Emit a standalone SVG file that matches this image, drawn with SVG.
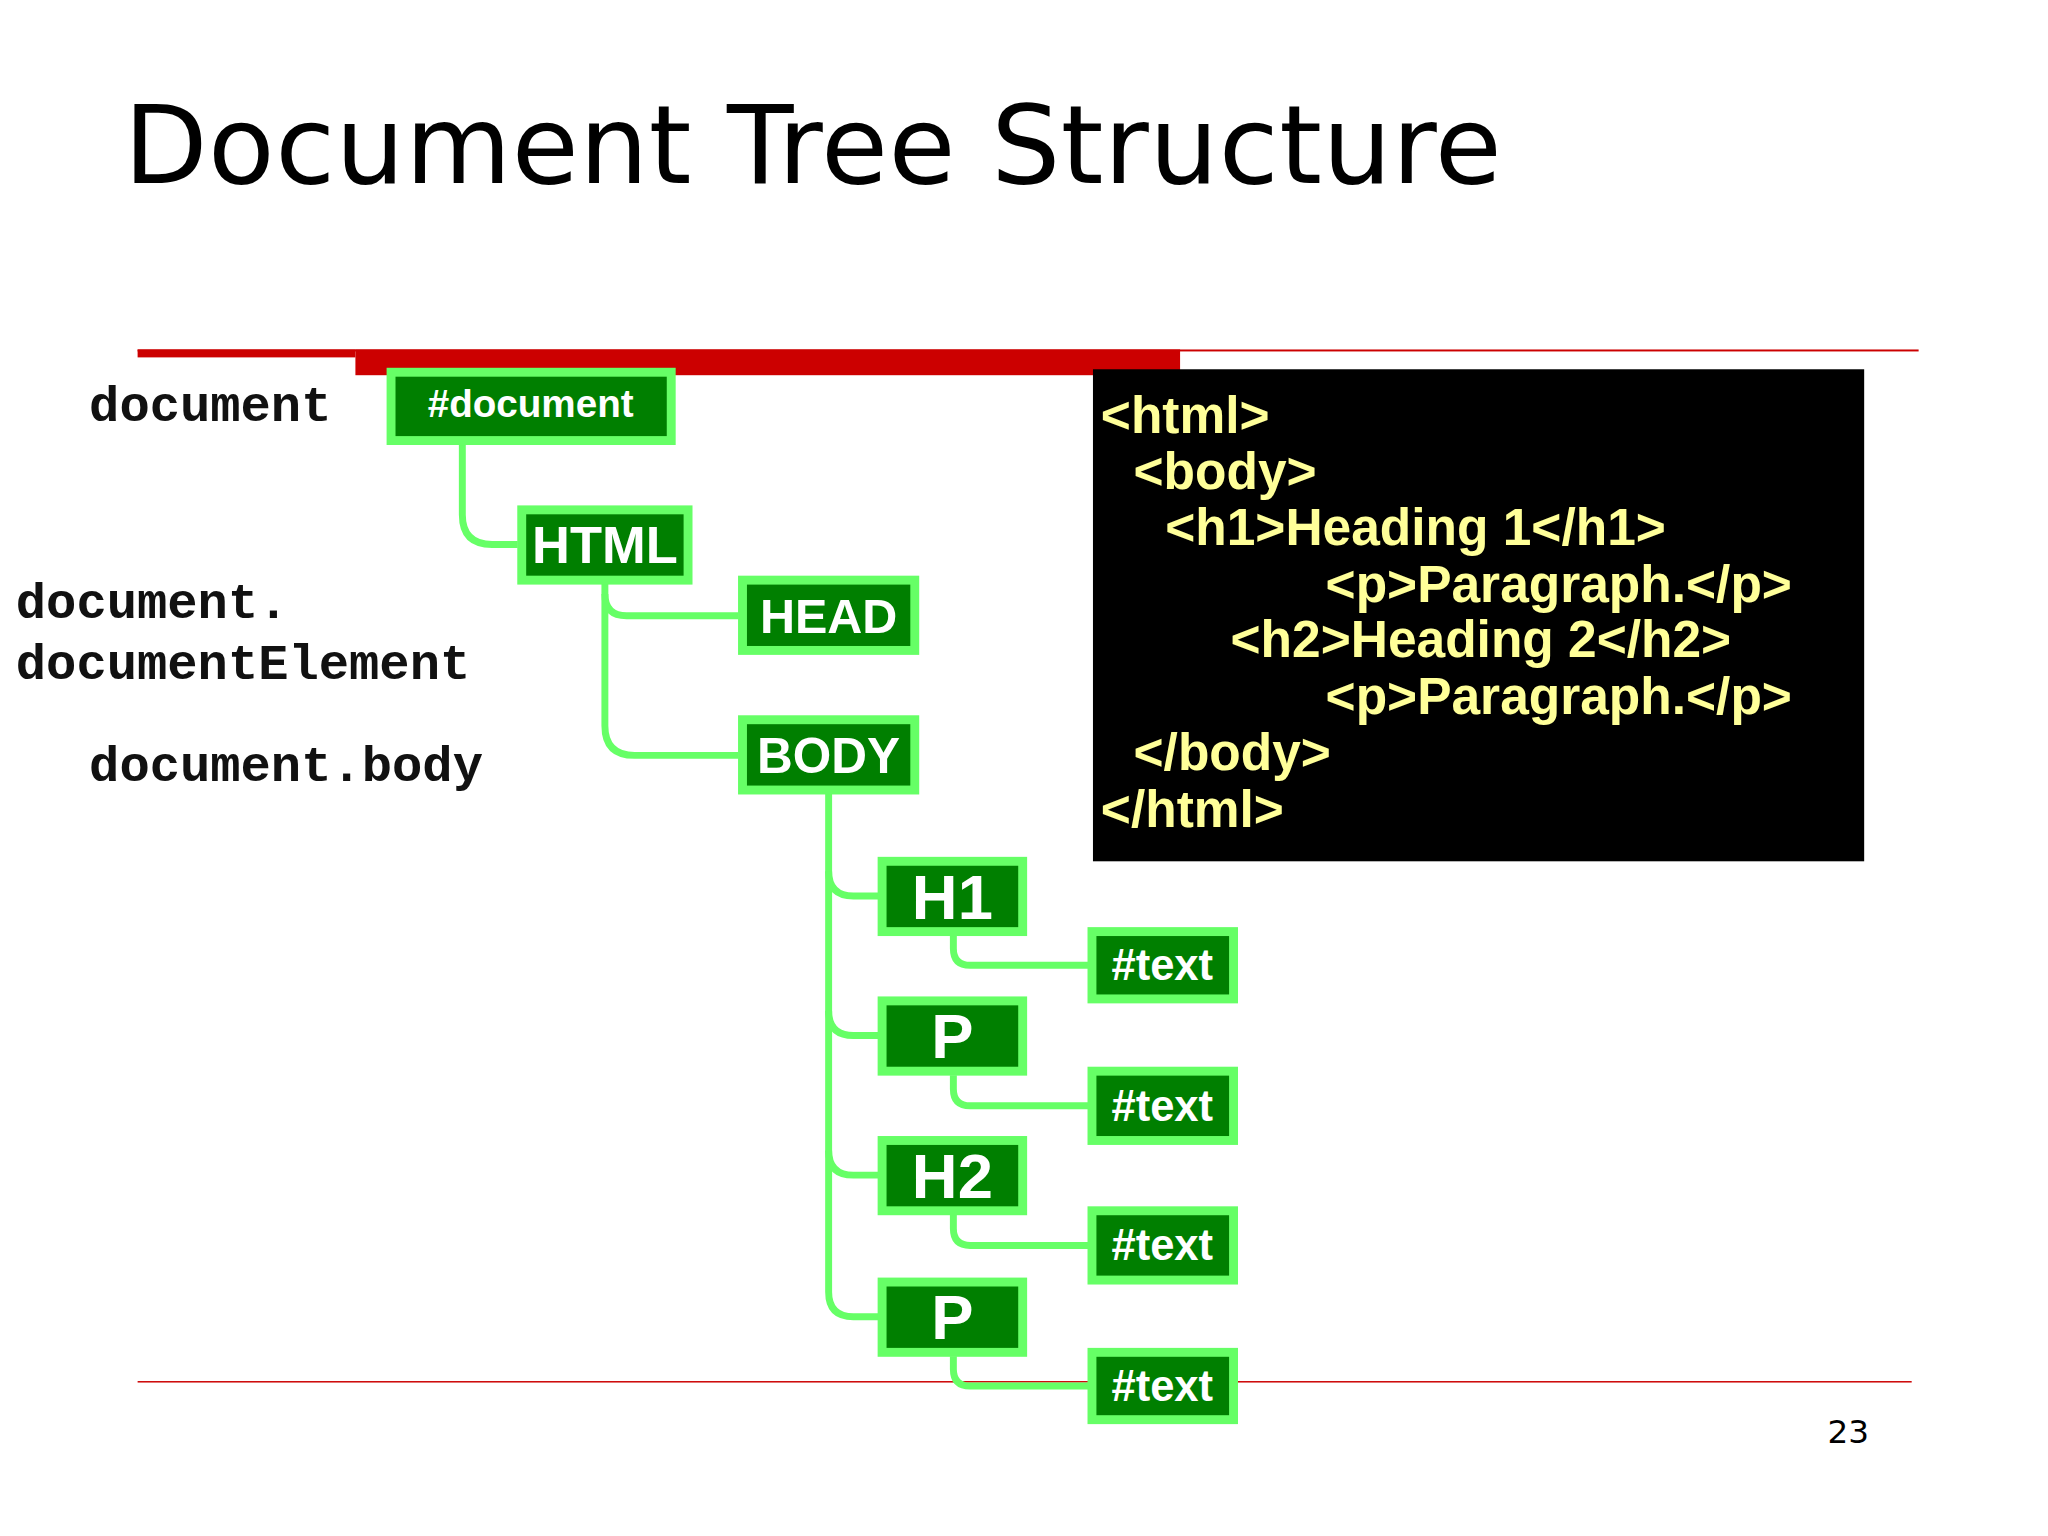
<svg xmlns="http://www.w3.org/2000/svg" width="2048" height="1536" viewBox="0 0 2048 1536">
<style>
.n rect{fill:#007f00;stroke:#66ff66;stroke-width:9}
.n text{fill:#fff;font-family:"Liberation Sans",Arial,sans-serif;font-weight:bold;text-anchor:middle}
.c path{fill:none;stroke:#66ff66;stroke-width:7;stroke-linejoin:round}
.code{fill:#ffff99;font-family:"Liberation Sans",Arial,sans-serif;font-weight:bold;font-size:52px}
.lab{fill:#111;font-family:"Liberation Mono","Courier New",monospace;font-weight:bold;font-size:51px}
</style>
<rect width="2048" height="1536" fill="#fff"/>
<g transform="scale(0.99)">
<text x="125" y="185" font-family="'DejaVu Sans',Verdana,sans-serif" font-size="110" textLength="1392" fill="#000">Document Tree Structure</text>
<rect x="139" y="353" width="1799" height="2" fill="#cc0000"/>
<rect x="139" y="353" width="220" height="8" fill="#cc0000"/>
<rect x="359" y="353" width="833" height="26" fill="#cc0000"/>
<rect x="139" y="1395" width="1792" height="1.5" fill="#cc0000"/>
<text x="1888" y="1458" font-family="'DejaVu Sans',Verdana,sans-serif" font-size="33" text-anchor="end">23</text>
<g id="labels">
<text class="lab" x="90" y="425">document</text>
<text class="lab" x="16" y="624">document.</text>
<text class="lab" x="16" y="686">documentElement</text>
<text class="lab" x="90" y="789">document.body</text>
</g>
<g id="code">
<rect x="1104" y="373" width="779" height="497" fill="#000"/>
<text class="code" x="1112" y="437">&lt;html&gt;</text>
<text class="code" x="1145" y="494">&lt;body&gt;</text>
<text class="code" x="1177" y="551">&lt;h1&gt;Heading 1&lt;/h1&gt;</text>
<text class="code" x="1339" y="608">&lt;p&gt;Paragraph.&lt;/p&gt;</text>
<text class="code" x="1243" y="664">&lt;h2&gt;Heading 2&lt;/h2&gt;</text>
<text class="code" x="1339" y="721">&lt;p&gt;Paragraph.&lt;/p&gt;</text>
<text class="code" x="1145" y="778">&lt;/body&gt;</text>
<text class="code" x="1112" y="835">&lt;/html&gt;</text>
</g>
<g class="c" id="connectors">
<path d="M467 449 V520 Q467 550 497 550 H523"/>
<path d="M611 590 V600 Q611 622 633 622 H746"/>
<path d="M611 600 V733 Q611 763 641 763 H746"/>
<path d="M837 802 V880 Q837 905 862 905 H887"/>
<path d="M837 880 V1021 Q837 1046 862 1046 H887"/>
<path d="M837 1021 V1162 Q837 1187 862 1187 H887"/>
<path d="M837 1162 V1305 Q837 1330 862 1330 H887"/>
<path d="M963 945 V958 Q963 975 980 975 H1099"/>
<path d="M963 1086 V1100 Q963 1117 980 1117 H1099"/>
<path d="M963 1227 V1241 Q963 1258 980 1258 H1099"/>
<path d="M963 1370 V1383 Q963 1400 980 1400 H1099"/>
</g>
<g class="n" id="n-document"><rect x="395" y="376" width="283" height="69"/><text x="536" y="421" font-size="39">#document</text></g>
<g class="n" id="n-html"><rect x="527" y="515" width="168" height="71"/><text x="611" y="569" font-size="53">HTML</text></g>
<g class="n" id="n-head"><rect x="750" y="586" width="174" height="71"/><text x="837" y="639" font-size="49">HEAD</text></g>
<g class="n" id="n-body"><rect x="750" y="727" width="174" height="71"/><text x="837" y="781" font-size="50">BODY</text></g>
<g class="n" id="n-h1"><rect x="891" y="870" width="142" height="71"/><text x="962" y="928" font-size="64">H1</text></g>
<g class="n" id="n-p1"><rect x="891" y="1011" width="142" height="71"/><text x="962" y="1069" font-size="64">P</text></g>
<g class="n" id="n-h2"><rect x="891" y="1152" width="142" height="71"/><text x="962" y="1210" font-size="64">H2</text></g>
<g class="n" id="n-p2"><rect x="891" y="1295" width="142" height="71"/><text x="962" y="1353" font-size="64">P</text></g>
<g class="n" id="n-t1"><rect x="1103" y="941" width="143" height="68"/><text x="1174" y="990" font-size="44">#text</text></g>
<g class="n" id="n-t2"><rect x="1103" y="1082" width="143" height="70"/><text x="1174" y="1132" font-size="44">#text</text></g>
<g class="n" id="n-t3"><rect x="1103" y="1223" width="143" height="70"/><text x="1174" y="1273" font-size="44">#text</text></g>
<g class="n" id="n-t4"><rect x="1103" y="1366" width="143" height="68"/><text x="1174" y="1415" font-size="44">#text</text></g>
</g>
</svg>
